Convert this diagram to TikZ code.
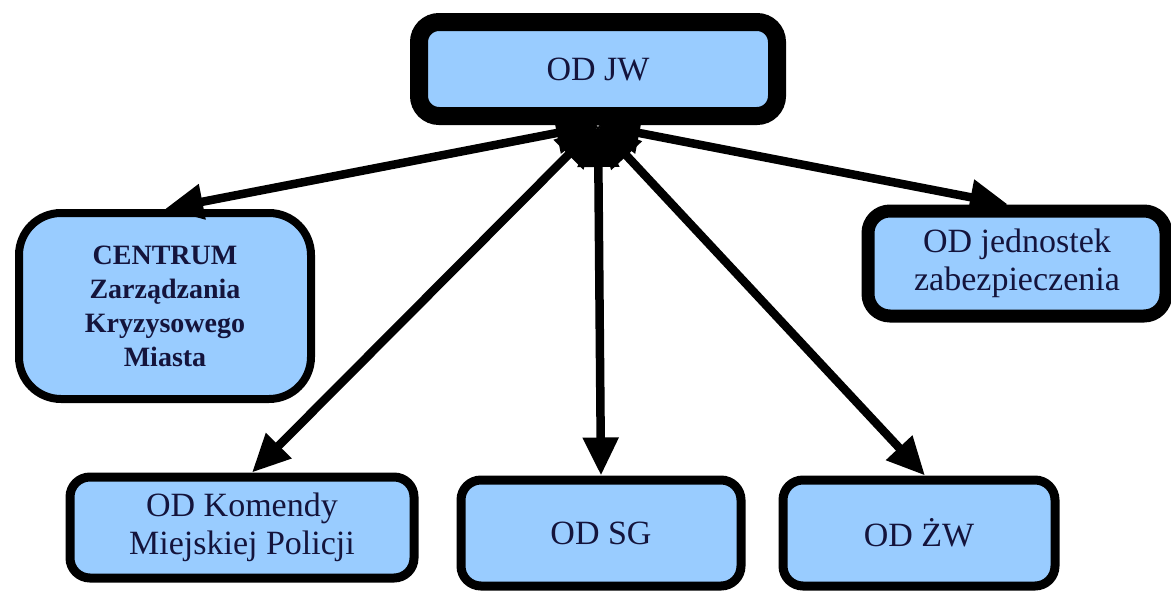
\documentclass[tikz,border=0pt]{standalone}
\usepackage{fontspec}
\setmainfont{LiberationSerif}[Extension=.ttf, UprightFont=*-Regular, BoldFont=*-Bold]
\usetikzlibrary{arrows.meta}
\definecolor{boxfill}{HTML}{99CCFF}
\definecolor{boxtext}{HTML}{14143C}
\begin{document}
\begin{tikzpicture}[x=1pt,y=-1pt,
  box/.style={draw=black, fill=boxfill, text=boxtext, inner sep=0pt,
    align=center, font=\rmfamily\fontsize{34}{38}\selectfont},
  link/.style={line width=8.5pt,
    {Triangle[length=42pt,width=40pt]}-{Triangle[length=38pt,width=34pt]}}]
\useasboundingbox[fill=white] (0,0) rectangle (1171,592);

% the central unit
\node[box, line width=18pt, rounded corners=20pt,
      minimum width=358pt, minimum height=94pt] (jw) at (598,69) {OD JW};

% subordinate units
\node[box, line width=8pt, rounded corners=42pt,
      minimum width=292pt, minimum height=186pt,
      font=\rmfamily\bfseries\fontsize{28}{34}\selectfont] (czk) at (165,306)
  {CENTRUM\\Zarządzania\\Kryzysowego\\Miasta};
\node[box, line width=13pt, rounded corners=22pt,
      minimum width=298pt, minimum height=105pt] (jed) at (1017,263.5)
  {OD jednostek\\zabezpieczenia};
\node[box, line width=9pt, rounded corners=20pt,
      minimum width=344pt, minimum height=101pt] (kmp) at (242,527.5)
  {OD Komendy\\Miejskiej Policji};
\node[box, line width=9pt, rounded corners=20pt,
      minimum width=280pt, minimum height=106pt] (sg) at (601,533)
  {OD SG};
\node[box, line width=9pt, rounded corners=20pt,
      minimum width=272pt, minimum height=106pt] (zw) at (919,533)
  {OD ŻW};

% links from the central unit
\draw[link] (jw.south) -- (czk.north);
\draw[link] (jw.south) -- ([xshift=-9pt]jed.north);
\draw[link] (jw.south) -- ([xshift=10pt]kmp.north);
\draw[link] (jw.south) -- (sg.north);
\draw[link] (jw.south) -- ([xshift=6pt]zw.north);
\end{tikzpicture}
\end{document}
